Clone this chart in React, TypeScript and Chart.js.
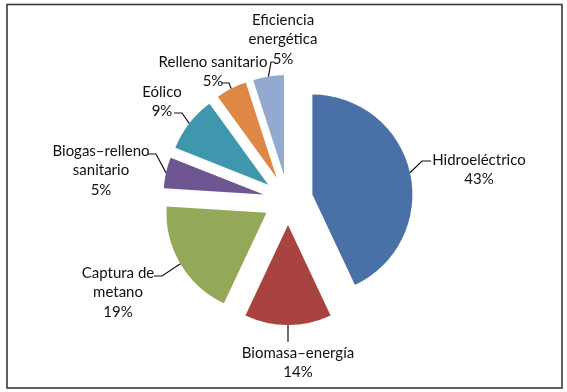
import React, { useEffect, useRef } from "react";
import { Chart, registerables } from "chart.js";

Chart.register(...registerables);

// ---- data ----
const categories = [
  "Hidroeléctrico",
  "Biomasa–energía",
  "Captura de metano",
  "Biogas–relleno sanitario",
  "Eólico",
  "Relleno sanitario",
  "Eficiencia energética",
];
const shares = [43, 14, 19, 5, 9, 5, 5];
const labelLines = [
  ["Hidroeléctrico"],
  ["Biomasa–energía"],
  ["Captura de", "metano"],
  ["Biogas–relleno", "sanitario"],
  ["Eólico"],
  ["Relleno sanitario"],
  ["Eficiencia", "energética"],
];
const sliceColors = ["#4A71A7", "#A9433F", "#94A85A", "#6F5592", "#3E97AD", "#DF8744", "#92AAD0"];

// ---- layout ----
const W = 567;
const H = 392;
const RADIUS = 100;
const EXPLODE = 25;
const FONT = '15px "Lato", "Noto Sans", sans-serif';
const LINE_H = 19.5;
// text label placement: centre x, first line centre y, leader start and elbow
const labelLayout = [
  { cx: 479, cy: 160, sx: 431, sy: 161, ex: 422, ey: 161 },
  { cx: 298, cy: 353, sx: null, sy: 342, ex: null, ey: 342 },
  { cx: 118, cy: 273, sx: 154, sy: 276, ex: 162, ey: 276 },
  { cx: 101, cy: 151, sx: 148, sy: 154, ex: 156, ey: 154 },
  { cx: 162, cy: 92, sx: 174, sy: 113, ex: 182, ey: 113 },
  { cx: 213, cy: 62, sx: 222, sy: 83, ex: 229, ey: 83 },
  { cx: 283, cy: 20, sx: 274, sy: 62, ex: 271, ey: 62 },
];

const total = shares.reduce((a, b) => a + b, 0);

const explodeFix = {
  id: "explodeFix",
  afterDatasetUpdate(chart: any, args: any) {
    const meta = chart.getDatasetMeta(args.index);
    meta.data.forEach((el: any) => {
      const r = el.outerRadius;
      const ro = EXPLODE * (1 - Math.sin(Math.min(Math.PI, el.circumference || 0)));
      el.outerRadius = r - ro;
      const w = ro / (Math.PI * r) / 2;
      el.startAngle -= w;
      el.endAngle += w;
    });
  },
};

const frameAndLabels = {
  id: "frameAndLabels",
  beforeDraw(chart: any) {
    const ctx = chart.ctx;
    ctx.save();
    ctx.fillStyle = "#ffffff";
    ctx.fillRect(0, 0, W, H);
    ctx.restore();
  },
  afterDraw(chart: any) {
    const ctx = chart.ctx;
    const meta = chart.getDatasetMeta(0);
    ctx.save();
    // frame
    ctx.strokeStyle = "#3a3a3a";
    ctx.lineWidth = 1.6;
    ctx.strokeRect(7, 4.5, 555, 383.5);
    // labels
    ctx.font = FONT;
    ctx.fillStyle = "#111111";
    ctx.textAlign = "center";
    ctx.textBaseline = "middle";
    ctx.strokeStyle = "#111111";
    ctx.lineWidth = 1.2;
    meta.data.forEach((el: any, i: number) => {
      const L = labelLayout[i];
      const lines = [...labelLines[i], Math.round((shares[i] / total) * 100) + "%"];
      lines.forEach((t, k) => ctx.fillText(t, L.cx, L.cy + k * LINE_H));
      const mid = (el.startAngle + el.endAngle) / 2;
      const px = el.x + Math.cos(mid) * (EXPLODE + RADIUS);
      const py = el.y + Math.sin(mid) * (EXPLODE + RADIUS);
      ctx.beginPath();
      const sx = L.sx === null ? px : L.sx;
      const ex = L.ex === null ? px : L.ex;
      ctx.moveTo(sx, L.sy);
      ctx.lineTo(ex, L.ey);
      ctx.lineTo(px, py);
      ctx.stroke();
    });
    ctx.restore();
  },
};

export default function App() {
  const ref = useRef<HTMLCanvasElement>(null);
  useEffect(() => {
    const canvas = ref.current;
    if (!canvas) return;
    const chart = new Chart(canvas, {
      type: "pie",
      data: {
        labels: categories,
        datasets: [
          {
            data: shares,
            backgroundColor: sliceColors,
            borderWidth: 0,
            offset: EXPLODE * 4,
          },
        ],
      },
      options: {
        responsive: false,
        animation: false,
        radius: RADIUS,
        layout: { padding: { left: 59, right: 50, top: 58, bottom: 50 } },
        plugins: {
          legend: { display: false },
          tooltip: { enabled: false },
        },
        events: [],
      } as any,
      plugins: [explodeFix, frameAndLabels],
    });
    return () => chart.destroy();
  }, []);
  return (
    <div style={{ position: "absolute", left: 0, top: 0, width: W, height: H, background: "#fff" }}>
      <canvas ref={ref} width={W} height={H} style={{ width: W, height: H, display: "block" }} />
    </div>
  );
}
